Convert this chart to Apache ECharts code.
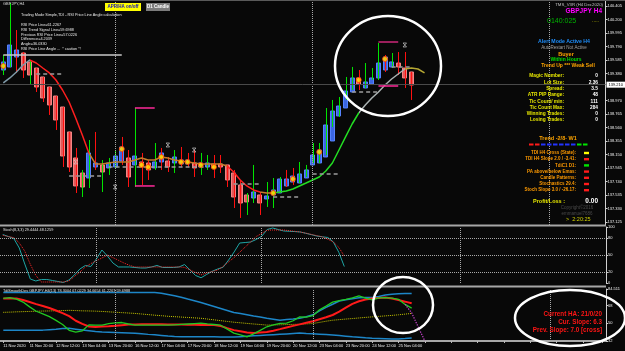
<!DOCTYPE html>
<html>
<head>
<meta charset="utf-8">
<title>GBPJPY,H4</title>
<script src="https://cdn.jsdelivr.net/npm/echarts@6/dist/echarts.min.js"></script>
<style>
html, body { margin: 0; padding: 0; background: #080808; }
#chart { width: 625px; height: 351px; }
</style>
</head>
<body>
<div id="chart"></div>
<script>
// H4 bars, bar 0 = 11 Nov 2020 04:00, one time label every 4 bars
var timeLabels = ['11 Nov 2020', '11 Nov 20:00', '12 Nov 12:00', '13 Nov 04:00', '13 Nov 20:00', '16 Nov 12:00',
    '17 Nov 04:00', '17 Nov 20:00', '18 Nov 12:00', '19 Nov 04:00', '19 Nov 20:00', '20 Nov 12:00',
    '23 Nov 04:00', '23 Nov 20:00', '24 Nov 12:00', '25 Nov 04:00'];
var priceTicks = [140.405, 140.200, 139.995, 139.790, 139.585, 139.380, 138.970, 138.765, 138.560,
    138.355, 138.150, 137.945, 137.740, 137.535, 137.330, 137.125];
var stochTicks = [0, 20, 50, 80, 100];
var tdiTicks = [32, 50, 68, 84.511];
var lastPrice = 139.205;

// heiken ashi bodies
var haOpen = [
    139.433, 139.479, 139.630, 139.691, 139.555, 139.463, 139.327, 139.175, 139.038, 138.871,
    138.492, 138.097, 137.869, 137.793, 137.960, 137.991, 137.945, 137.960, 138.051, 138.097,
    137.991, 138.036, 138.021, 137.945, 138.036, 138.051, 138.021, 138.006, 138.006, 138.021,
    137.960, 137.960, 138.006, 138.006, 137.991, 137.869, 137.687, 137.535, 137.489, 137.535,
    137.474, 137.535, 137.565, 137.672, 137.732, 137.717, 137.793, 137.991, 138.021, 138.112,
    138.355, 138.735, 138.856, 139.099, 139.312, 139.160, 139.220, 139.312, 139.433, 139.479,
    139.539, 139.463, 139.403];
var haClose = [
    139.555, 139.813, 139.737, 139.433, 139.357, 139.175, 139.008, 138.902, 138.674, 138.127,
    137.960, 137.672, 137.656, 138.173, 138.021, 137.884, 138.021, 138.127, 138.264, 137.808,
    138.127, 137.960, 137.915, 138.036, 138.173, 137.960, 138.112, 138.066, 138.066, 137.945,
    138.021, 138.021, 137.945, 137.960, 137.763, 137.504, 137.413, 137.429, 137.580, 137.413,
    137.520, 137.611, 137.778, 137.778, 137.823, 137.854, 137.915, 138.142, 138.218, 138.598,
    138.810, 138.886, 139.114, 139.312, 139.220, 139.251, 139.312, 139.539, 139.630, 139.555,
    139.479, 139.312, 139.205];
// real bars (wicks), barUp 1 = bullish bar
var barHigh = [
    139.661, 140.450, 140.040, 139.706, 139.585, 139.463, 139.327, 139.175, 139.038, 138.871,
    138.492, 138.249, 137.915, 138.370, 138.492, 138.066, 138.097, 138.218, 138.416, 138.218,
    138.856, 138.173, 138.066, 138.324, 138.249, 138.112, 138.218, 138.264, 138.173, 138.218,
    138.173, 138.142, 138.142, 138.142, 137.991, 137.915, 137.763, 137.565, 137.991, 137.580,
    137.732, 137.793, 137.808, 137.915, 137.945, 138.036, 137.991, 138.324, 138.324, 138.856,
    138.978, 139.023, 139.327, 139.479, 139.433, 139.539, 139.463, 139.843, 139.661, 139.691,
    139.706, 139.706, 139.403];
var barLow = [
    139.357, 139.479, 139.388, 139.312, 139.205, 139.099, 138.947, 138.750, 138.522, 137.960,
    137.884, 137.565, 137.504, 137.641, 137.915, 137.580, 137.839, 137.945, 137.991, 137.656,
    137.656, 137.687, 137.763, 137.915, 137.915, 137.884, 137.869, 137.960, 137.960, 137.808,
    137.839, 137.915, 137.793, 137.869, 137.656, 137.337, 137.186, 137.231, 137.413, 137.231,
    137.353, 137.337, 137.565, 137.656, 137.687, 137.717, 137.808, 138.021, 138.021, 138.142,
    138.568, 138.719, 138.978, 139.129, 139.129, 139.160, 139.281, 139.281, 139.403, 139.463,
    139.357, 139.160, 138.978];
var barUp = [
    1, 1, 0, 0, 1, 0, 0, 0, 0, 0,
    0, 0, 1, 1, 0, 1, 1, 1, 0, 0,
    1, 0, 0, 1, 0, 0, 1, 0, 0, 0,
    1, 1, 0, 0, 0, 0, 0, 1, 1, 0,
    1, 1, 1, 0, 0, 1, 1, 1, 1, 1,
    1, 1, 1, 1, 0, 1, 1, 1, 0, 1,
    0, 0, 0];

// trend moving average, colour changes with its state
var maLine = [
    139.236, 139.312, 139.403, 139.509, 139.585, 139.539, 139.463, 139.388, 139.281, 139.129,
    138.947, 138.704, 138.446, 138.173, 138.006, 138.006, 138.021, 138.036, 138.036, 138.036,
    138.066, 138.097, 138.066, 138.066, 138.112, 138.097, 138.066, 138.051, 138.036, 138.021,
    138.006, 138.006, 138.006, 138.006, 137.975, 137.884, 137.763, 137.672, 137.611, 137.580,
    137.565, 137.565, 137.580, 137.596, 137.626, 137.672, 137.717, 137.763, 137.808, 137.899,
    138.021, 138.218, 138.416, 138.613, 138.780, 138.902, 139.008, 139.099, 139.205, 139.296,
    139.372, 139.448, 139.463, 139.448, 139.388];
var maRuns = [['flat', 0], ['down', 4], ['wait', 13], ['down', 34], ['wait', 39], ['up', 41], ['tired', 54], ['turn', 61]];

// support / resistance segments: [fromBar, toBar, price, kind]  kind 0 solid, 1 dashed, 2 pink, 3 plum
var levels = [
    [0, 18, 139.661, 0], [5, 9, 139.372, 1], [10, 15, 137.823, 1], [16, 31, 137.960, 1],
    [35, 39, 137.702, 1], [41, 45, 137.504, 1], [47, 51, 137.854, 1], [53, 57, 139.099, 1],
    [59, 62, 139.479, 1], [20, 23, 138.856, 2], [20, 23, 137.672, 2], [57, 60, 139.858, 3],
    [57, 60, 139.190, 2]];
var signalDots = [[0, 139.494], [18, 138.233], [21, 137.991], [22, 137.960], [24, 138.112], [27, 138.036],
    [28, 138.036], [30, 137.991], [32, 137.960], [41, 137.565], [44, 137.778], [48, 138.188],
    [54, 139.281], [58, 139.600]];
var fractals = [[11, 138.036], [17, 137.656], [25, 138.294], [29, 138.218], [61, 139.813]];
var separators = [17, 47, 83];

// Stoch(8,3,3)
var stochK = [
    86.6, 83.0, 79.5, 62.5, 33.9, 7.1, 3.6, 6.3, 6.3, 4.5,
    2.7, 0.9, 5.4, 14.3, 25.0, 31.3, 29.5, 42.9, 58.9, 48.2,
    35.7, 28.6, 28.6, 28.6, 27.7, 26.8, 26.8, 28.6, 31.3, 27.7,
    27.7, 27.7, 28.6, 33.0, 23.2, 13.4, 9.3, 15.2, 20.9, 25.0,
    28.2, 41.1, 55.4, 71.4, 72.3, 73.2, 77.7, 83.4, 95.5, 98.2,
    95.5, 92.9, 92.3, 91.8, 91.1, 88.8, 86.4, 83.9, 82.5, 81.3,
    73.4, 54.8, 29.4];
var stochD = [
    85.2, 83.0, 81.1, 71.6, 56.8, 33.4, 13.6, 1.8, 1.8, 1.8,
    1.8, 1.8, 3.6, 11.6, 19.6, 28.6, 34.8, 39.8, 44.6, 49.6,
    45.4, 40.5, 35.7, 31.6, 28.6, 28.6, 28.6, 28.6, 28.6, 28.6,
    28.6, 28.6, 28.6, 27.9, 23.2, 18.6, 14.6, 17.7, 20.5, 23.2,
    29.6, 37.7, 45.5, 54.8, 64.1, 73.4, 82.9, 88.6, 94.3, 94.6,
    94.6, 94.6, 93.4, 92.3, 91.1, 89.0, 86.8, 84.6, 82.5, 78.2,
    73.2, 63.6, 48.1];

// TDI
var tdiUpper = [
    81, 81, 81, 81, 81, 81, 81, 81, 81, 81,
    81, 81, 81, 81, 81, 81, 81, 81, 81, 81,
    81, 81, 81, 81, 80.3, 79.1, 77.8, 76.2, 74.4, 72.7,
    70.9, 68.9, 66.9, 64.9, 62.9, 60.9, 59.8, 58.6, 57.4, 56.3,
    55.1, 54.1, 53.1, 53.7, 54.3, 55, 56.5, 58.5, 62.5, 66,
    69.2, 72.5, 73.8, 74.8, 75.8, 76, 76, 77, 78.6, 79.4,
    79.9, 80, 80];
var tdiLower = [
    43, 43, 43, 43, 43, 43, 43, 43.5, 44, 44.6,
    44.8, 44, 43.2, 42.4, 41.6, 41, 40.8, 40.6, 40.4, 40.2,
    39.9, 39.3, 38.7, 38.2, 37.6, 37, 36.6, 36.4, 36.3, 36.3,
    36.3, 36.3, 36.2, 36.1, 36, 36, 36.4, 36.8, 37.2, 37.6,
    38, 38.4, 38.8, 39.2, 39.6, 40, 39.6, 39.3, 38.9, 38.5,
    38.1, 37.5, 36.9, 36.3, 35.8, 35.2, 34.8, 34.6, 34.4, 34.1,
    34.1, 34.5, 35];
var tdiMid = [
    61, 61.2, 61.5, 61.7, 61.9, 62.1, 62.3, 62.4, 62.6, 62.8,
    63, 62.8, 62.5, 62.4, 62.2, 61.9, 61.5, 61.1, 60.7, 60.3,
    59.9, 59.3, 58.7, 58.1, 57.6, 57, 56.6, 56.2, 55.8, 55.4,
    55, 54.2, 53.4, 52.6, 51.8, 51, 50.4, 49.8, 49.2, 48.7,
    48.1, 48.2, 48.4, 48.6, 48.8, 49, 49.3, 49.7, 50.8, 52,
    53, 53.6, 54.2, 54.7, 55.3, 55.9, 56.4, 56.9, 57.4, 57.9,
    58.5, 59.2, 59.9];
var tdiPrice = [
    75.2, 75.9, 74.3, 71.4, 66.5, 62.1, 59.4, 56.6, 52.9, 48.7,
    42.8, 41, 42.3, 48.3, 48, 48, 49.5, 50.4, 50.7, 49.2,
    48, 48, 48, 48, 48, 48, 48.4, 48.8, 49.2, 49.6,
    50, 49.3, 48.7, 48, 44, 40, 38.1, 36.2, 39.2, 42.8,
    46.4, 48.2, 49.8, 50, 52.5, 56.4, 56.1, 57.6, 63.5, 67.3,
    71.3, 72.8, 74, 75.6, 77.6, 75.4, 73.5, 75.6, 75.9, 75.4,
    74.2, 69, 65.2];
var tdiSignal = [
    75, 75, 75, 73.4, 71.4, 69.3, 67.4, 65.4, 62.9, 60.2,
    57.1, 52.5, 49.3, 46.7, 46.2, 46.6, 46.9, 47.4, 48, 48.6,
    48.8, 48.9, 49, 49, 48.9, 48.8, 48.7, 48.6, 48.5, 48.4,
    48.3, 48.2, 48.1, 47.1, 45, 43, 41.8, 40.6, 40.2, 40.6,
    41, 42.4, 44, 45.7, 47.3, 48.8, 50.4, 52, 54, 56,
    58.3, 61.7, 65.7, 69.6, 72.2, 74, 75.1, 75.5, 75.9, 75,
    73.4, 71.8, 70.1];
var tdiProjection = [[61, 69], [62, 60.5], [63, 46], [64, 32]];

// panel texts
var headerLines = ['RSI Price Line=61.2267', 'RSI Trend Signal Line=59.6988', 'Previous RSI Price Line=57.0226',
    'Difference=4.2039', 'Angle=36.0330', 'RSI Price Line Angle ...  * caution *!'];
var infoRows = [['Magic Number:', '0'], ['Lot Size:', '2.36'], ['Spread:', '3.5'], ['ATR PIP Range:', '48'],
    ['Tic Count/ min:', '111'], ['Tic Count Max:', '284'], ['Winning Trades:', '0'], ['Losing Trades:', '0']];
var trendW1 = ['down', 'down', 'side', 'side', 'side', 'side', 'side', 'side', 'up', 'up'];
var statusRows = [['TDI H4 Cross (State):', 'cross'], ['TDI H4 Slope 2.0 / -3.41:', 'down'], ['TdiC1 D1:', 'up'],
    ['PA above/below Emas:', 'down'], ['Candle Patterns:', 'down'], ['Stochastics 29.4:', 'down'],
    ['Stoch Slope 3.0 / -26.17:', 'down']];
var haLines = ['Current HA: 21/0/20', 'Cur. Slope: 6.3', 'Prev. Slope: 7.0 [cross]'];

[haClose, barHigh, barLow, barUp, stochK, stochD, tdiUpper, tdiLower, tdiMid, tdiPrice, tdiSignal].forEach(function (a) {
    if (a.length !== haOpen.length) throw new Error('array length ' + a.length);
});

var FONT = '"Liberation Sans", Arial, sans-serif';
var stateColor = { up: '#00e400', down: '#ff1a1a', side: '#2233ff', cross: '#ffff00' };
var maColor = { flat: '#7f9aa8', down: '#ff1e1e', wait: '#c47a2a', up: '#22dd22', tired: '#a9b1b1', turn: '#b4a632' };
var levelStyle = [
    { stroke: '#c8c8c8', lineWidth: 1.5 },
    { stroke: '#9c9c9c', lineWidth: 1.5, lineDash: [4, 3] },
    { stroke: '#ff2a9a', lineWidth: 1.5 },
    { stroke: '#9b1f5c', lineWidth: 2 }];

var N_MAIN = 92, N_STOCH = 110;
function slots(n) { var a = []; for (var i = 0; i < n; i++) a.push(String(i)); return a; }

var bodies = haOpen.map(function (o, i) {
    var c = haClose[i];
    return [o, c, Math.min(o, c), Math.max(o, c)];
});
var wicks = barHigh.map(function (h, i) { return [i, h, barLow[i], barUp[i]]; });

var maPieces = maRuns.map(function (r, k) {
    var p = { color: maColor[r[0]] };
    if (k > 0) p.gte = r[1];
    if (k < maRuns.length - 1) p.lt = maRuns[k + 1][1];
    return p;
});

var sepLine = { type: 'dotted', color: '#a8a8a8', width: 1 };
function sepData() { return separators.map(function (s) { return { xAxis: s }; }); }

function txt(x, y, s, fill, size, align, bold) {
    return {
        type: 'text', x: x, y: y, silent: true, z: 50,
        style: {
            text: s, fill: fill, font: (bold ? 'bold ' : '') + size + 'px ' + FONT,
            textAlign: align || 'left', textVerticalAlign: 'middle'
        }
    };
}
function box(x, y, w, h, fill) {
    return { type: 'rect', silent: true, z: 49, shape: { x: x, y: y, width: w, height: h }, style: { fill: fill } };
}
function ring(cx, cy, rx, ry) {
    return { type: 'ellipse', silent: true, z: 60, shape: { cx: cx, cy: cy, rx: rx, ry: ry },
        style: { fill: 'none', stroke: '#ffffff', lineWidth: 2.5 } };
}

var g = [];
// panel frames
g.push(box(0, 0, 625, 1, '#5a5a5a'));
g.push(box(0, 224.5, 606, 2, '#a6a6a6'));
g.push(box(0, 285.5, 606, 2, '#a6a6a6'));
// top left
g.push(txt(3, 4, 'GBPJPY,H4', '#dcdcdc', 4));
g.push(box(105, 3, 36, 8, '#ffff00'));
g.push(txt(123, 7, 'APR/HA on/off', '#1010c0', 4.5, 'center', true));
g.push(box(146, 3, 24, 8, '#7c7c7c'));
g.push(txt(158, 7, 'D1 Candle', '#ffffff', 4.5, 'center', true));
g.push(txt(21, 15, 'Trading Mode Simple,TDI - RSI Price Line Angle calculation', '#e8e8e8', 3.8));
headerLines.forEach(function (s, k) { g.push(txt(21, 25 + k * 4.8, s, '#e8e8e8', 3.8)); });
// right info panel
g.push(txt(603, 5, 'TMS_V3R (H4 Dec2020)', '#c0c0c0', 4.3, 'right'));
g.push(txt(602, 11, 'GBPJPY H4', '#ff00ff', 6.5, 'right', true));
g.push(txt(547, 21, '0140:025', '#00b400', 7));
g.push(txt(592, 21, '.....', '#d8d800', 5));
g.push(txt(564, 42, 'Alert Mode Active H4', '#1e90ff', 5.2, 'center', true));
g.push(txt(564, 48, 'AutoRestart Not Active', '#a0a0a0', 4.5, 'center'));
g.push(txt(566, 54, 'Buyer', '#ffa500', 5.5, 'center', true));
g.push(txt(566, 60, 'Within Hours', '#00e000', 5, 'center', true));
g.push(txt(568, 66, 'Trend Up *** Weak Sell', '#ffa500', 5, 'center', true));
infoRows.forEach(function (r, k) {
    var y = 76 + k * 6.3;
    g.push(txt(564, y, r[0], '#e6e600', 4.8, 'right', true));
    g.push(txt(598, y, r[1], '#ffffff', 4.8, 'right', true));
});
g.push(txt(558, 138, 'Trend -2/8- W1', '#ffa500', 5.5, 'center', true));
trendW1.forEach(function (s, k) { g.push(box(529 + k * 6, 143.5, 4.5, 2, stateColor[s])); });
statusRows.forEach(function (r, k) {
    var y = 153 + k * 6.2;
    g.push(txt(576, y, r[0], '#ff9a00', 4.5, 'right', true));
    g.push(box(584, y - 1.2, 5, 2.4, stateColor[r[1]]));
});
g.push(txt(549, 201, 'Profit/Loss :', '#e6e600', 5.5, 'center', true));
g.push(txt(598, 201, '0.00', '#ffffff', 6.5, 'right', true));
g.push(txt(577, 208, 'Copyright\u00a92016', '#4a4a4a', 4.5, 'center'));
g.push(txt(577, 214, 'emmanuel7686', '#4a4a4a', 4.5, 'center'));
g.push(txt(566, 219, '>  2:20:25', '#d4d400', 5.5));
// indicator headers
g.push(txt(3, 229.5, 'Stoch(8,3,3) 29.4444 48.1259', '#e0e0e0', 3.8));
g.push(txt(3, 291, 'TdiSmoothDev GBPJPY,H4(13) 78.3004 67.0229 34.6654 61.2267 59.6988', '#e0e0e0', 3.8));
haLines.forEach(function (s, k) { g.push(txt(602, 314 + k * 8.3, s, '#ff1515', 6.3, 'right', true)); });
// annotations
g.push(ring(388, 66, 53, 50));
g.push(ring(403, 305, 30, 28));
g.push(ring(570, 318, 55, 28));

var axisText = { color: '#f0f0f0', fontSize: 4, fontFamily: FONT, margin: 2 };
var rightAxisLine = { show: true, lineStyle: { color: '#cfcfcf', width: 1 } };

var chart = echarts.init(document.getElementById('chart'));
var option = {
    backgroundColor: '#080808',
    animation: false,
    graphic: { elements: g },
    grid: [
        { left: 0, top: 0, width: 606, height: 225, show: false },
        { left: 0, top: 227, width: 606, height: 56, show: false },
        { left: 0, top: 289, width: 606, height: 52, show: false }
    ],
    xAxis: [
        { type: 'category', gridIndex: 0, data: slots(N_MAIN), show: false },
        { type: 'category', gridIndex: 1, data: slots(N_STOCH), show: false },
        {
            type: 'category', gridIndex: 2, data: slots(N_MAIN),
            axisLine: { show: true, lineStyle: { color: '#a8a8a8', width: 2 } },
            axisTick: { show: true, interval: 3, alignWithLabel: true, length: 2, lineStyle: { color: '#bdbdbd' } },
            axisLabel: {
                interval: 0, align: 'left', color: '#eeeeee', fontSize: 4, fontFamily: FONT, margin: 3,
                formatter: function (v, idx) { return idx % 4 === 0 && timeLabels[idx / 4] ? timeLabels[idx / 4] : ''; }
            },
            splitLine: { show: false }
        }
    ],
    yAxis: [
        {
            type: 'value', gridIndex: 0, position: 'right', min: 137.079, max: 140.496,
            axisLine: rightAxisLine, splitLine: { show: false },
            axisTick: { show: true, length: 2, customValues: priceTicks, lineStyle: { color: '#cfcfcf' } },
            axisLabel: Object.assign({ customValues: priceTicks, formatter: function (v) { return v.toFixed(3); } }, axisText)
        },
        {
            type: 'value', gridIndex: 1, position: 'right', min: 0, max: 100,
            axisLine: rightAxisLine, splitLine: { show: false },
            axisTick: { show: true, length: 2, customValues: stochTicks, lineStyle: { color: '#cfcfcf' } },
            axisLabel: Object.assign({ customValues: stochTicks }, axisText)
        },
        {
            type: 'value', gridIndex: 2, position: 'right', min: 32, max: 84.6,
            axisLine: rightAxisLine, splitLine: { show: false },
            axisTick: { show: true, length: 2, customValues: tdiTicks, lineStyle: { color: '#cfcfcf' } },
            axisLabel: Object.assign({ customValues: tdiTicks }, axisText)
        }
    ],
    visualMap: {
        show: false, type: 'piecewise', seriesIndex: 2, dimension: 0, pieces: maPieces
    },
    series: [
        {
            name: 'HA', type: 'candlestick', xAxisIndex: 0, yAxisIndex: 0, data: bodies, barWidth: 4.5, z: 2,
            itemStyle: { color: '#3b66e2', color0: '#e25a5a', borderColor: '#5683ff', borderColor0: '#f58585', borderWidth: 1 },
            markLine: {
                silent: true, symbol: ['none', 'none'],
                label: { show: false },
                lineStyle: sepLine,
                data: sepData().concat([{
                    yAxis: lastPrice,
                    lineStyle: { type: 'solid', color: '#4a4a4a', width: 1 },
                    label: {
                        show: true, position: 'end', distance: 1, formatter: function (p) { return p.value.toFixed(3); },
                        backgroundColor: '#ffffff', color: '#000000', fontSize: 4, fontFamily: FONT, padding: [1, 2]
                    }
                }])
            }
        },
        {
            name: 'bars', type: 'custom', xAxisIndex: 0, yAxisIndex: 0, data: wicks, z: 3,
            encode: { x: 0, y: [1, 2] },
            renderItem: function (params, api) {
                var a = api.coord([api.value(0), api.value(1)]);
                var b = api.coord([api.value(0), api.value(2)]);
                var x = Math.round(a[0]) + 0.5;
                return {
                    type: 'line', shape: { x1: x, y1: a[1], x2: x, y2: b[1] },
                    style: { stroke: api.value(3) ? '#00e400' : '#ff1010', lineWidth: 1 }
                };
            }
        },
        {
            name: 'trend MA', type: 'line', xAxisIndex: 0, yAxisIndex: 0, data: maLine, z: 4,
            showSymbol: false, lineStyle: { width: 1.5 }
        },
        {
            name: 'levels', type: 'custom', xAxisIndex: 0, yAxisIndex: 0, data: levels, z: 5,
            encode: { x: [0, 1], y: 2 },
            renderItem: function (params, api) {
                var a = api.coord([api.value(0), api.value(2)]);
                var b = api.coord([api.value(1), api.value(2)]);
                return {
                    type: 'line', shape: { x1: a[0], y1: a[1], x2: b[0], y2: b[1] },
                    style: levelStyle[api.value(3)]
                };
            }
        },
        {
            name: 'signals', type: 'scatter', xAxisIndex: 0, yAxisIndex: 0, data: signalDots, z: 6,
            symbolSize: 5, itemStyle: { color: '#ffe800', borderColor: '#ff3c00', borderWidth: 1 }
        },
        {
            name: 'fractals', type: 'scatter', xAxisIndex: 0, yAxisIndex: 0, data: fractals, z: 6,
            symbol: 'path://M0,0L10,0L0,10L10,10Z', symbolSize: [3.5, 4],
            itemStyle: { color: 'none', borderColor: '#d8d8d8', borderWidth: 0.8 }
        },
        {
            name: '%K', type: 'line', xAxisIndex: 1, yAxisIndex: 1, data: stochK, showSymbol: false,
            lineStyle: { color: '#1fa6a6', width: 1 },
            markLine: {
                silent: true, symbol: ['none', 'none'], label: { show: false }, lineStyle: sepLine,
                data: sepData().concat([{ yAxis: 20 }, { yAxis: 50 }, { yAxis: 80 }])
            }
        },
        {
            name: '%D', type: 'line', xAxisIndex: 1, yAxisIndex: 1, data: stochD, showSymbol: false,
            lineStyle: { color: '#ff2a2a', width: 1, type: 'dotted' }
        },
        {
            name: 'upper band', type: 'line', xAxisIndex: 2, yAxisIndex: 2, data: tdiUpper, showSymbol: false,
            lineStyle: { color: '#1d86c8', width: 1.5 },
            markLine: {
                silent: true, symbol: ['none', 'none'], label: { show: false }, lineStyle: sepLine,
                data: sepData()
            }
        },
        {
            name: 'lower band', type: 'line', xAxisIndex: 2, yAxisIndex: 2, data: tdiLower, showSymbol: false,
            lineStyle: { color: '#1d86c8', width: 1.5 }
        },
        {
            name: 'market base', type: 'line', xAxisIndex: 2, yAxisIndex: 2, data: tdiMid, showSymbol: false,
            lineStyle: { color: '#c8c800', width: 1, type: 'dotted' }
        },
        {
            name: 'signal', type: 'line', xAxisIndex: 2, yAxisIndex: 2, data: tdiSignal, showSymbol: false,
            lineStyle: { color: '#ff1a1a', width: 2 }
        },
        {
            name: 'price line', type: 'line', xAxisIndex: 2, yAxisIndex: 2, data: tdiPrice, showSymbol: false,
            lineStyle: { color: '#22c822', width: 1.3 }
        },
        {
            name: 'projection', type: 'line', xAxisIndex: 2, yAxisIndex: 2, data: tdiProjection, showSymbol: false,
            lineStyle: { color: '#c040c8', width: 1.3, type: 'dotted' }
        }
    ]
};
chart.setOption(option);
window.addEventListener('resize', function () { chart.resize(); });
</script>
</body>
</html>
